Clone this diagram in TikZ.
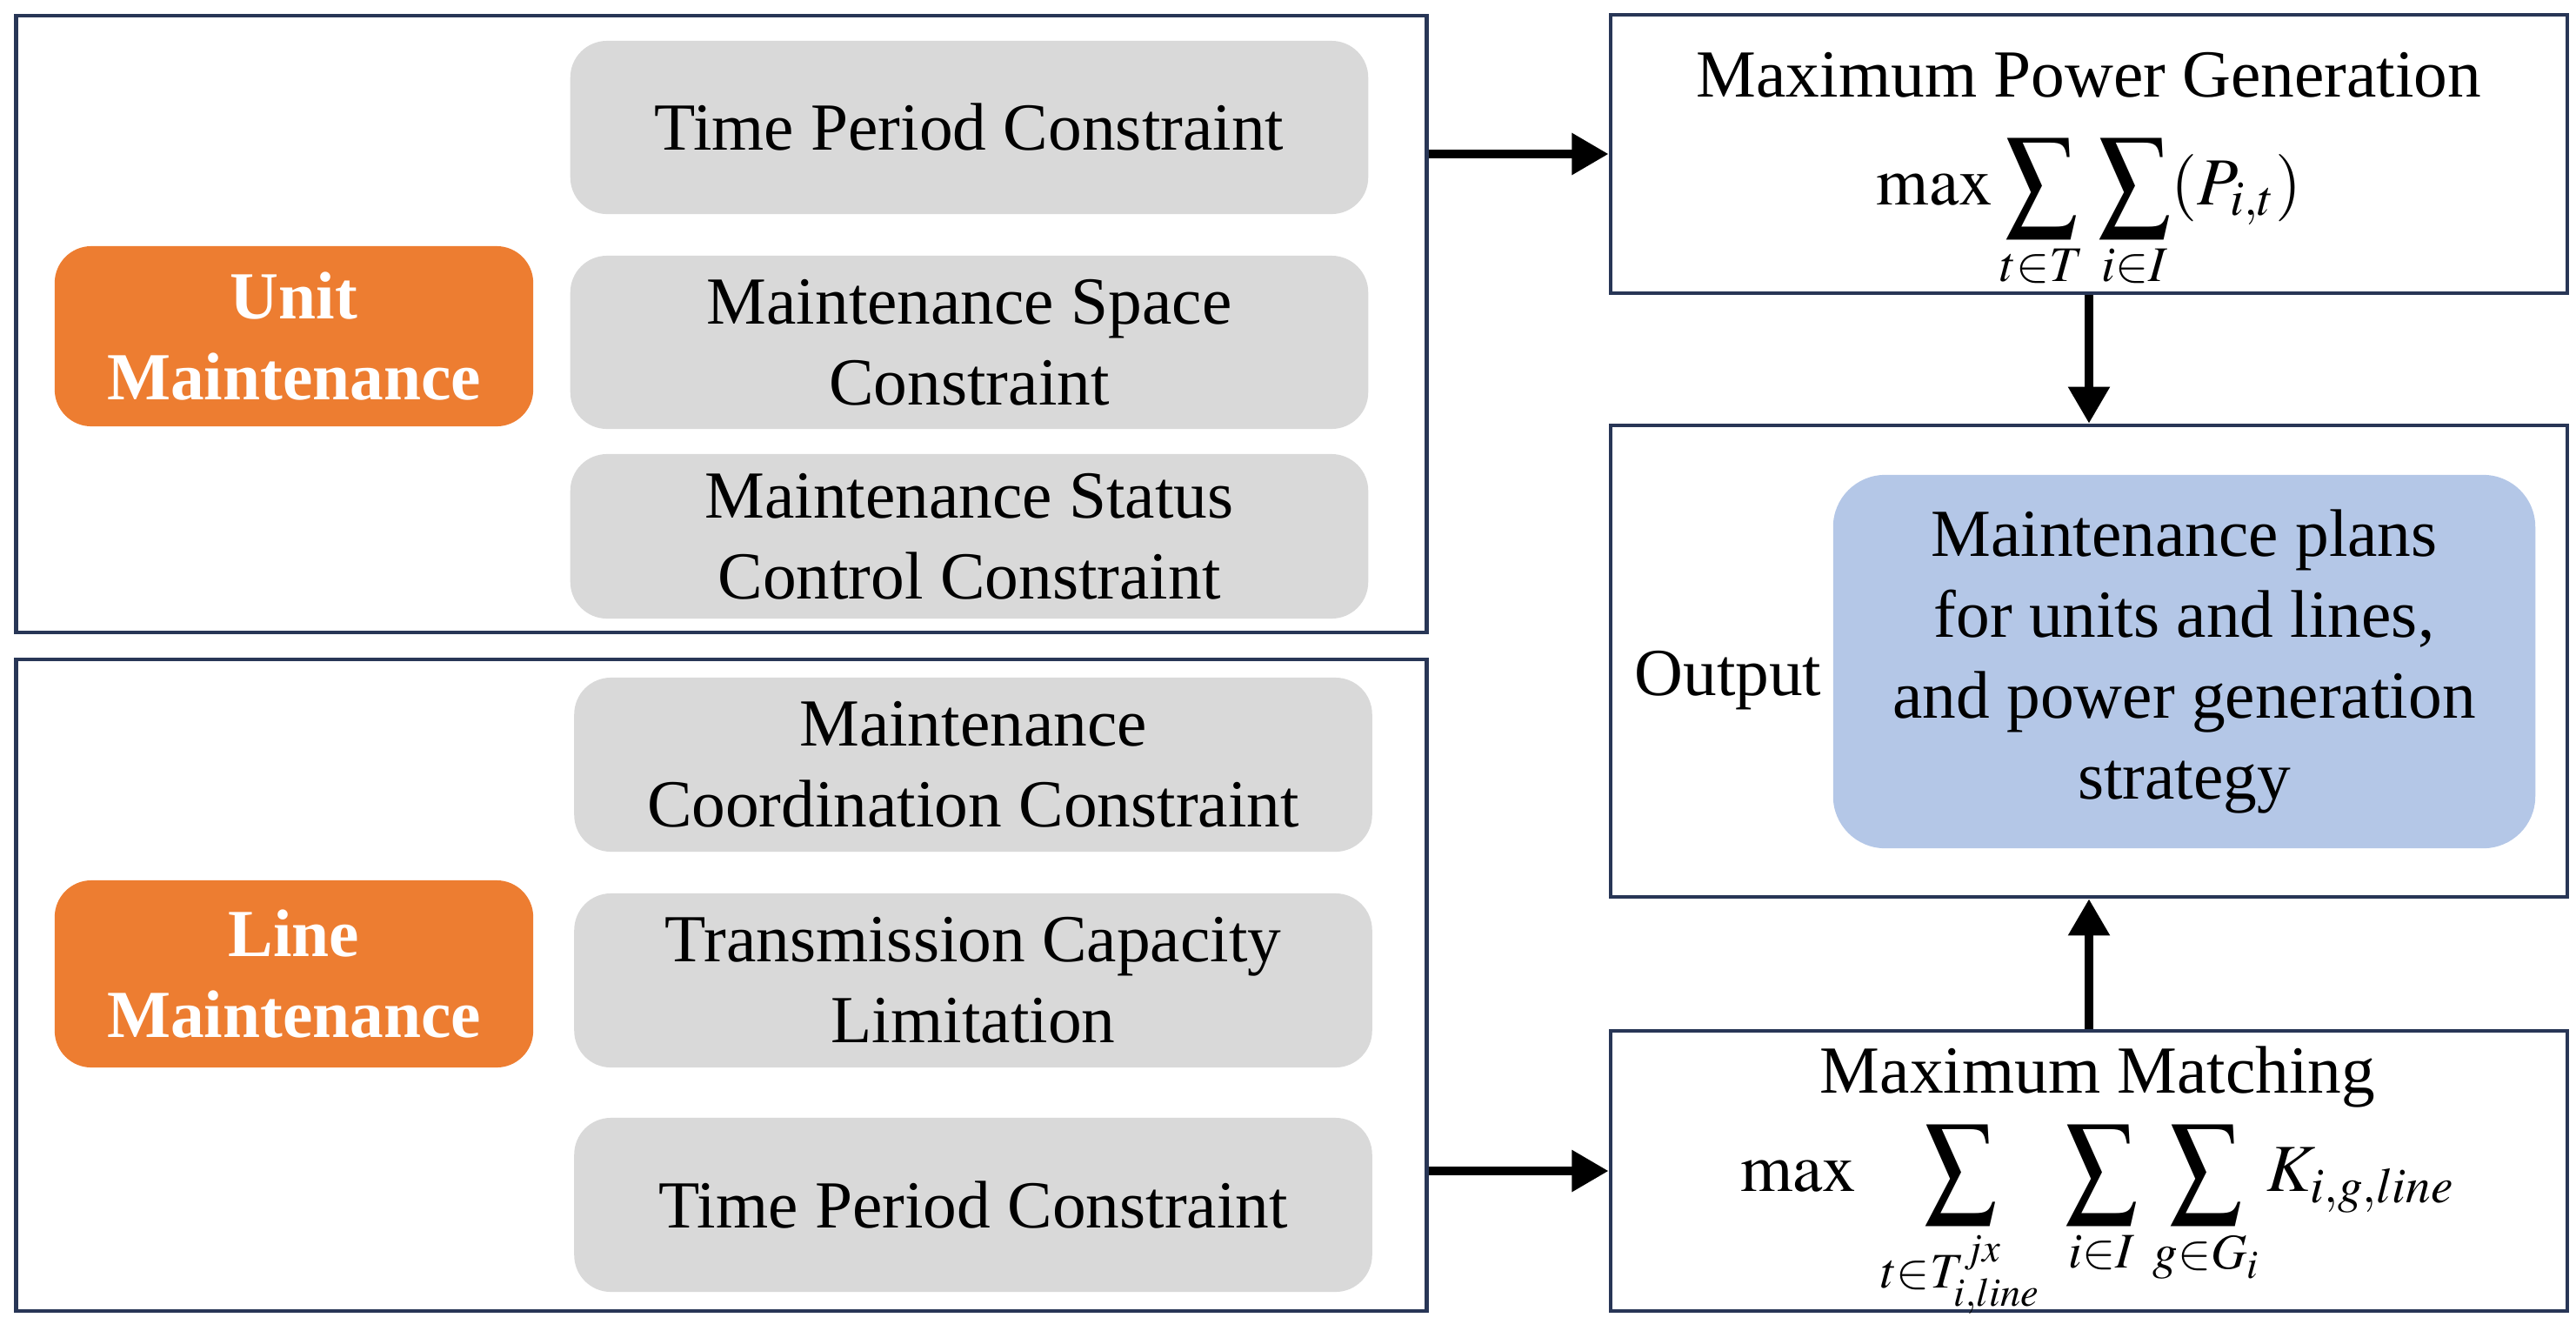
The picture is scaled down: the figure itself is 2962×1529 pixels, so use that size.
\documentclass[tikz,border=0pt]{standalone}
\usepackage{mathptmx}
\usepackage{fontspec}
\setmainfont{Liberation Serif}
\usetikzlibrary{arrows.meta}
\definecolor{navy}{RGB}{40,54,86}
\definecolor{orng}{RGB}{237,125,49}
\definecolor{gry}{RGB}{217,217,217}
\definecolor{blu}{RGB}{180,199,231}
\newcommand{\BigSum}{\mathop{\vcenter{\hbox{\scalebox{1.06}[1.2]{$\displaystyle\sum$}}}}\limits}
\tikzset{
  frame/.style={draw=navy, line width=1.2pt},
  obox/.style={fill=orng, rounded corners=12pt, text=white, font=\fontsize{22}{26.5}\selectfont\bfseries, align=center, minimum width=5.5cm, inner sep=0pt},
  gbox/.style={fill=gry, rounded corners=12pt, font=\fontsize{22}{26.5}\selectfont, align=center, minimum width=9.17cm, inner sep=0pt},
  bbox/.style={fill=blu, rounded corners=17pt, font=\fontsize{22}{26.5}\selectfont, align=center, minimum width=8.07cm, minimum height=4.29cm, inner sep=0pt},
  txt/.style={font=\fontsize{22}{26.5}\selectfont, inner sep=0pt},
  arr/.style={-{Triangle[length=12pt,width=13pt]}, line width=2.8pt, black}
}
\begin{document}
\begin{tikzpicture}[x=0.01cm, y=-0.01cm]
\useasboundingbox (0,0) rectangle (2962,1529);
% left frames
\node[frame, minimum width=16.21cm, minimum height=7.09cm, inner sep=0pt] (topframe) at (829.5,372.5) {};
\node[frame, minimum width=16.21cm, minimum height=7.49cm, inner sep=0pt] (botframe) at (829.5,1132.5) {};
% orange boxes
\node[obox, minimum height=2.07cm] (unit) at (338,386.5) {Unit\\Maintenance};
\node[obox, minimum height=2.15cm] (line) at (338,1119.5) {Line\\Maintenance};
% gray boxes top
\node[gbox, minimum height=1.99cm] (g1) at (1114.5,146.5) {Time Period Constraint};
\node[gbox, minimum height=1.99cm] (g2) at (1114.5,393.5) {Maintenance Space\\Constraint};
\node[gbox, minimum height=1.89cm] (g3) at (1114.5,616.5) {Maintenance Status\\Control Constraint};
% gray boxes bottom
\node[gbox, minimum height=2.0cm] (g4) at (1119,879) {Maintenance\\Coordination Constraint};
\node[gbox, minimum height=2.0cm] (g5) at (1119,1127) {Transmission Capacity\\Limitation};
\node[gbox, minimum height=2.0cm] (g6) at (1119,1385) {Time Period Constraint};
% right boxes
\node[frame, minimum width=11.0cm, minimum height=3.2cm, inner sep=0pt] (rtop) at (2402,177) {};
\node[frame, minimum width=11.0cm, minimum height=5.42cm, inner sep=0pt] (rmid) at (2402,760) {};
\node[frame, minimum width=11.0cm, minimum height=3.22cm, inner sep=0pt] (rbot) at (2402,1346) {};
% texts in right top
\node[txt] (pgtitle) at (2402,86) {Maximum Power Generation};
\node[txt, anchor=north] (pgform) at (2402,158) {$\displaystyle \max\BigSum_{t\in T}\,\BigSum_{i\in I}(P_{i,t})$};
% middle
\node[bbox] (blue) at (2511.5,760.5) {Maintenance plans\\for units and lines,\\and power generation\\strategy};
\node[txt, anchor=base] (outlbl) at (1987,799) {Output};
% bottom
\node[txt] (mmtitle) at (2412,1238) {Maximum Matching};
\node[txt, anchor=north] (mmform) at (2412,1292) {$\displaystyle \max\ \BigSum_{t\in T_{i,line}^{jx}}\ \BigSum_{i\in I}\,\BigSum_{g\in G_i} K_{i,g,line}$};
% arrows
\draw[arr] (rtop.west -| topframe.east) -- (rtop.west);
\draw[arr] (rbot.west -| botframe.east) -- (rbot.west);
\draw[arr] (rtop.south) -- (rmid.north);
\draw[arr] (rbot.north) -- (rmid.south);
\end{tikzpicture}
\end{document}
